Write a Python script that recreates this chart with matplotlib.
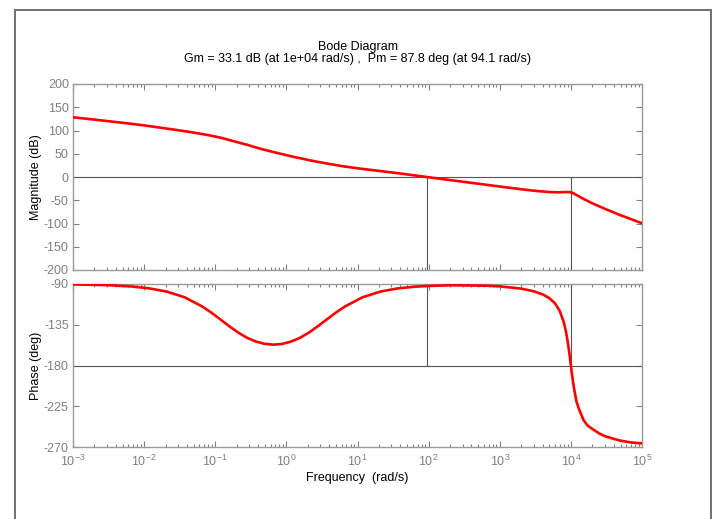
import matplotlib
matplotlib.use("Agg")
import matplotlib.pyplot as plt
from matplotlib.patches import Rectangle
from matplotlib.ticker import LogLocator, NullFormatter, FixedLocator

plt.rcParams['font.family'] = ['Liberation Sans', 'DejaVu Sans']
plt.rcParams['mathtext.default'] = 'regular'
plt.rcParams['axes.unicode_minus'] = False

# Bode data (rad/s, dB, deg)
mag_freq = [0.001, 0.00316, 0.0057, 0.01, 0.029, 0.05, 0.085, 0.126, 0.18, 0.28,
            0.43, 0.75, 1.25, 2.2, 3.7, 6.3, 10.9, 32, 94.1, 200,
            500, 1000, 2000, 3000, 5000, 7000, 8000, 9000, 9500, 10000,
            10500, 11000, 12000, 15000, 20000, 30000, 50000, 100000]
mag_db = [128.5, 120, 115.6, 111, 101, 95.5, 89.3, 83.6, 77.1, 69.3,
          60.8, 51.5, 43.5, 35.5, 29.0, 23.0, 18.0, 9.4, 0, -6.6,
          -14.5, -20.5, -26.3, -29.4, -32.4, -32.9, -32.5, -32.2, -32.4, -33.1,
          -34.1, -35.5, -38.7, -47.0, -56.5, -68.3, -82.2, -99.5]

ph_freq = [0.001, 0.00316, 0.0066, 0.01175, 0.0209, 0.0372, 0.0661, 0.0881, 0.1175, 0.1567,
           0.209, 0.2786, 0.3715, 0.4955, 0.661, 0.881, 1.175, 1.567, 2.089, 2.786,
           3.715, 4.955, 6.607, 11.75, 20.9, 37.15, 66.1, 94.1, 209, 661,
           1000, 2000, 3000, 4000, 5000, 6000, 7000, 8000, 8500, 9000,
           9500, 9750, 10000, 10250, 10500, 11000, 12000, 13000, 15000, 17000,
           20000, 25000, 30000, 40000, 50000, 70000, 100000]
ph_deg = [-90.4, -91.3, -92.7, -94.8, -98.4, -104.7, -115, -121.6, -129, -136.5,
          -143.5, -149.3, -153.5, -156.1, -157, -156.1, -153.5, -149.3, -143.5, -136.5,
          -129, -121.6, -115, -104.7, -98.4, -94.8, -92.9, -92.2, -91.4, -91.9,
          -92.6, -95.1, -98.0, -101.4, -105.7, -111.5, -120, -133, -142, -153,
          -166, -173, -180, -187, -193, -204, -220, -228, -240, -246,
          -250, -255, -258, -261, -263, -265, -266]

# margins
gm_freq = 1e4
pm_freq = 94.1
title_lines = ["Bode Diagram",
               "Gm = 33.1 dB (at 1e+04 rad/s) ,  Pm = 87.8 deg (at 94.1 rad/s)"]

mag_ticks = [-200, -150, -100, -50, 0, 50, 100, 150, 200]
ph_ticks = [-270, -225, -180, -135, -90]
x_ticks = [1e-3, 1e-2, 1e-1, 1e0, 1e1, 1e2, 1e3, 1e4, 1e5]
x_labels = [r'$10^{-3}$', r'$10^{-2}$', r'$10^{-1}$', r'$10^{0}$', r'$10^{1}$',
            r'$10^{2}$', r'$10^{3}$', r'$10^{4}$', r'$10^{5}$']

W, H = 716, 519
fig = plt.figure(figsize=(W / 100, H / 100), dpi=100)

def fx(px):
    return px / W

def fy(py):
    return 1 - py / H

ax1 = fig.add_axes([fx(73), fy(270), fx(642) - fx(73), fy(84) - fy(270)])
ax2 = fig.add_axes([fx(73), fy(447), fx(642) - fx(73), fy(284) - fy(447)])

spine_col = '#9a9a9a'
tick_col = '#808080'
ref_col = '#555555'

for ax in (ax1, ax2):
    ax.set_xscale('log')
    ax.set_xlim(1e-3, 1e5)
    ax.xaxis.set_major_locator(FixedLocator(x_ticks))
    ax.xaxis.set_minor_locator(LogLocator(base=10, subs=range(2, 10), numticks=20))
    ax.xaxis.set_minor_formatter(NullFormatter())
    ax.tick_params(which='both', direction='in', top=True, right=True,
                   color=tick_col, labelcolor=tick_col, labelsize=9, width=0.8)
    ax.tick_params(which='major', length=4, pad=3)
    ax.tick_params(which='minor', length=2.5)
    for s in ax.spines.values():
        s.set_color(spine_col)
        s.set_linewidth(1.0)

ax1.plot(mag_freq, mag_db, color='#ff0000', lw=1.9, zorder=3)
ax1.axhline(0, color=ref_col, lw=0.8, zorder=2)
ax1.vlines([pm_freq, gm_freq], -200, 0, color=ref_col, lw=0.8, zorder=2)
ax1.set_ylim(-200, 200)
ax1.set_yticks(mag_ticks)
ax1.set_xticklabels([])
ax1.set_ylabel('Magnitude (dB)', fontsize=9, color='black')

ax2.plot(ph_freq, ph_deg, color='#ff0000', lw=1.9, zorder=3)
ax2.axhline(-180, color=ref_col, lw=0.8, zorder=2)
ax2.vlines([pm_freq, gm_freq], -180, -90, color=ref_col, lw=0.8, zorder=2)
ax2.set_ylim(-270, -90)
ax2.set_yticks(ph_ticks)
ax2.set_xticklabels(x_labels)
ax2.tick_params(axis='x', which='major', pad=5)
ax2.set_ylabel('Phase (deg)', fontsize=9, color='black')
ax2.set_xlabel('Frequency  (rad/s)', fontsize=9, color='black', labelpad=2)

# align y labels at the same x
ax1.yaxis.set_label_coords(-0.055, 0.5)
ax2.yaxis.set_label_coords(-0.055, 0.5)

fig.text(fx(357.5), fy(47), title_lines[0], ha='center', va='center', fontsize=9)
fig.text(fx(357.5), fy(59), title_lines[1], ha='center', va='center', fontsize=9)

# outer frame of the screenshot
fig.add_artist(Rectangle((fx(14.5), -0.05), fx(710.5) - fx(14.5), fy(10) + 0.05,
                         transform=fig.transFigure, fill=False,
                         ec='#707070', lw=1.4))

fig.savefig('out.png', dpi=100)
